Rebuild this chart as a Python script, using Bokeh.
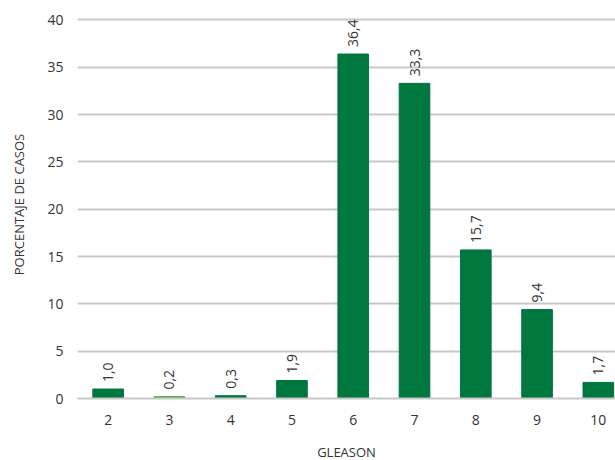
from bokeh.plotting import figure
from bokeh.models import ColumnDataSource, Range1d, FixedTicker
from bokeh.core.properties import value
from bokeh.embed import file_html
from bokeh.resources import INLINE
import math

gleason = [2, 3, 4, 5, 6, 7, 8, 9, 10]
porcentaje = [1.0, 0.2, 0.3, 1.9, 36.4, 33.3, 15.7, 9.4, 1.7]
etiquetas = ["1,0", "0,2", "0,3", "1,9", "36,4", "33,3", "15,7", "9,4", "1,7"]
y_ticks = [0, 5, 10, 15, 20, 25, 30, 35, 40]

DARK = "#00773F"
LIGHT = "#5BA94A"
colors = [LIGHT if g == 3 else DARK for g in gleason]

FONT = "Open Sans"
TXT = "#333333"

src = ColumnDataSource(dict(x=gleason, top=porcentaje, lab=etiquetas, color=colors))

p = figure(frame_width=538, frame_height=388, output_backend="svg", toolbar_location=None,
           x_range=Range1d(1.5, 10.28), y_range=Range1d(0, 41),
           min_border_left=77, min_border_right=0, min_border_top=10, min_border_bottom=50)
p.outline_line_color = None
p.background_fill_color = "white"

p.vbar(x="x", top="top", bottom=0, width=0.5, color="color", source=src)

p.text(x="x", y="top", text="lab", source=src, angle=math.pi / 2,
       text_align="left", text_baseline="middle", y_offset=-7,
       text_font=value(FONT), text_font_size="14px", text_color=TXT)

p.xaxis.ticker = FixedTicker(ticks=gleason)
p.yaxis.ticker = FixedTicker(ticks=y_ticks)
p.xgrid.grid_line_color = None
p.ygrid.grid_line_color = "#C8C8C8"
p.ygrid.grid_line_width = 2

for ax in (p.xaxis[0], p.yaxis[0]):
    ax.major_tick_line_color = None
    ax.minor_tick_line_color = None
    ax.major_label_text_font = FONT
    ax.major_label_text_font_size = "14px"
    ax.major_label_text_color = TXT
    ax.axis_label_text_font = FONT
    ax.axis_label_text_font_size = "13px"
    ax.axis_label_text_font_style = "normal"
    ax.axis_label_text_color = TXT

p.yaxis.axis_line_color = None
p.xaxis.axis_line_color = "#C8C8C8"
p.xaxis.axis_line_width = 2
p.xaxis.major_label_standoff = 10
p.yaxis.major_label_standoff = 8
p.xaxis.axis_label = "GLEASON"
p.xaxis.axis_label_standoff = 15
p.yaxis.axis_label = "PORCENTAJE DE CASOS"
p.yaxis.axis_label_standoff = 16

open("out.html", "w").write(file_html(p, INLINE))
